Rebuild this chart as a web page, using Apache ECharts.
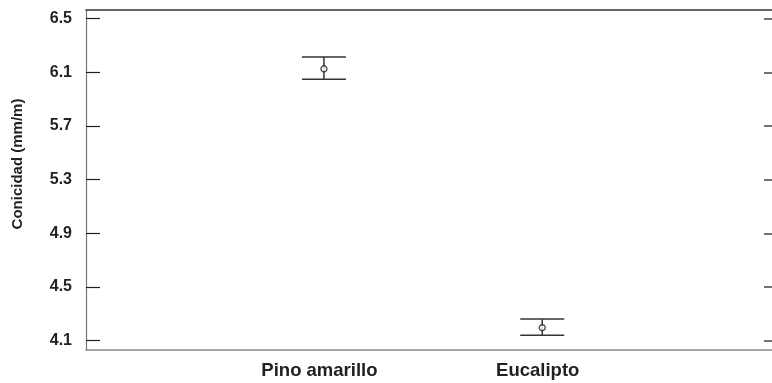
<!DOCTYPE html>
<html>
<head>
<meta charset="utf-8">
<script src="https://cdn.jsdelivr.net/npm/echarts@6/dist/echarts.min.js"></script>
<style>html,body{margin:0;padding:0;background:#fff}#c{width:772px;height:383px}</style>
</head>
<body>
<div id="c"></div>
<script>
const categories = ['Pino amarillo', 'Eucalipto'];
const positions = [1, 2];
const means = [6.127, 4.197];
const lowers = [6.048, 4.141];
const uppers = [6.215, 4.262];
const yTicks = [4.1, 4.5, 4.9, 5.3, 5.7, 6.1, 6.5];
const yName = 'Conicidad (mm/m)';

const font = '"Liberation Sans", Arial, sans-serif';
const chart = echarts.init(document.getElementById('c'));

const errData = positions.map((p, i) => [p, lowers[i], uppers[i]]);
const meanData = positions.map((p, i) => [p, means[i]]);

chart.setOption({
  animation: false,
  backgroundColor: '#fff',
  grid: { left: 86, top: 10, width: 692, height: 340, outerBoundsMode: 'none', containLabel: false },
  xAxis: [{
    type: 'value', min: -0.09, max: 3.08,
    axisLine: { show: true, onZero: false, lineStyle: { color: '#888', width: 1.5 } },
    axisTick: { show: false },
    splitLine: { show: false },
    axisLabel: {
      customValues: positions,
      formatter: v => { const i = positions.indexOf(v); return i >= 0 ? categories[i] : ''; },
      fontFamily: font, fontWeight: 'bold', fontSize: 18.5, color: '#222', margin: 11,
      padding: [0, 9, 0, 0]
    }
  }, {
    type: 'value', min: -0.09, max: 3.08, position: 'top',
    axisLine: { show: true, onZero: false, lineStyle: { color: '#333', width: 1.5 } },
    axisTick: { show: false }, axisLabel: { show: false }, splitLine: { show: false }
  }],
  yAxis: [{
    type: 'value', min: 4.031, max: 6.565,
    axisLine: { show: true, onZero: false, lineStyle: { color: '#777', width: 1.2 } },
    axisTick: { show: true, inside: true, length: 14, customValues: yTicks, lineStyle: { color: '#222', width: 1.2 } },
    axisLabel: {
      customValues: yTicks, formatter: v => v.toFixed(1),
      fontFamily: font, fontWeight: 'bold', fontSize: 16, color: '#222', margin: 14
    },
    splitLine: { show: false }
  }, {
    type: 'value', min: 4.031, max: 6.565, position: 'right',
    axisLine: { show: false, onZero: false },
    axisTick: { show: true, inside: true, length: 14, customValues: yTicks, lineStyle: { color: '#444', width: 1.5 } },
    axisLabel: { show: true, customValues: yTicks, formatter: () => '', inside: true },
    splitLine: { show: false }
  }],
  graphic: [{
    type: 'text', x: 18, y: 164, rotation: Math.PI / 2,
    style: { text: yName, fontFamily: font, fontWeight: 'bold', fontSize: 15, fill: '#222', align: 'center', verticalAlign: 'middle' }
  }],
  series: [{
    type: 'custom',
    data: errData,
    renderItem: (params, api) => {
      const x = api.value(0);
      const lo = api.coord([x, api.value(1)]);
      const hi = api.coord([x, api.value(2)]);
      const half = 22;
      const st = { stroke: '#333', lineWidth: 1.5 };
      return { type: 'group', children: [
        { type: 'line', shape: { x1: lo[0], y1: lo[1], x2: hi[0], y2: hi[1] }, style: st },
        { type: 'line', shape: { x1: lo[0] - half, y1: lo[1], x2: lo[0] + half, y2: lo[1] }, style: st },
        { type: 'line', shape: { x1: hi[0] - half, y1: hi[1], x2: hi[0] + half, y2: hi[1] }, style: st }
      ]};
    },
    z: 2
  }, {
    type: 'scatter', data: meanData, symbol: 'circle', symbolSize: 6,
    itemStyle: { color: '#fff', borderColor: '#222', borderWidth: 1.4 }, z: 3
  }]
});
</script>
</body>
</html>
